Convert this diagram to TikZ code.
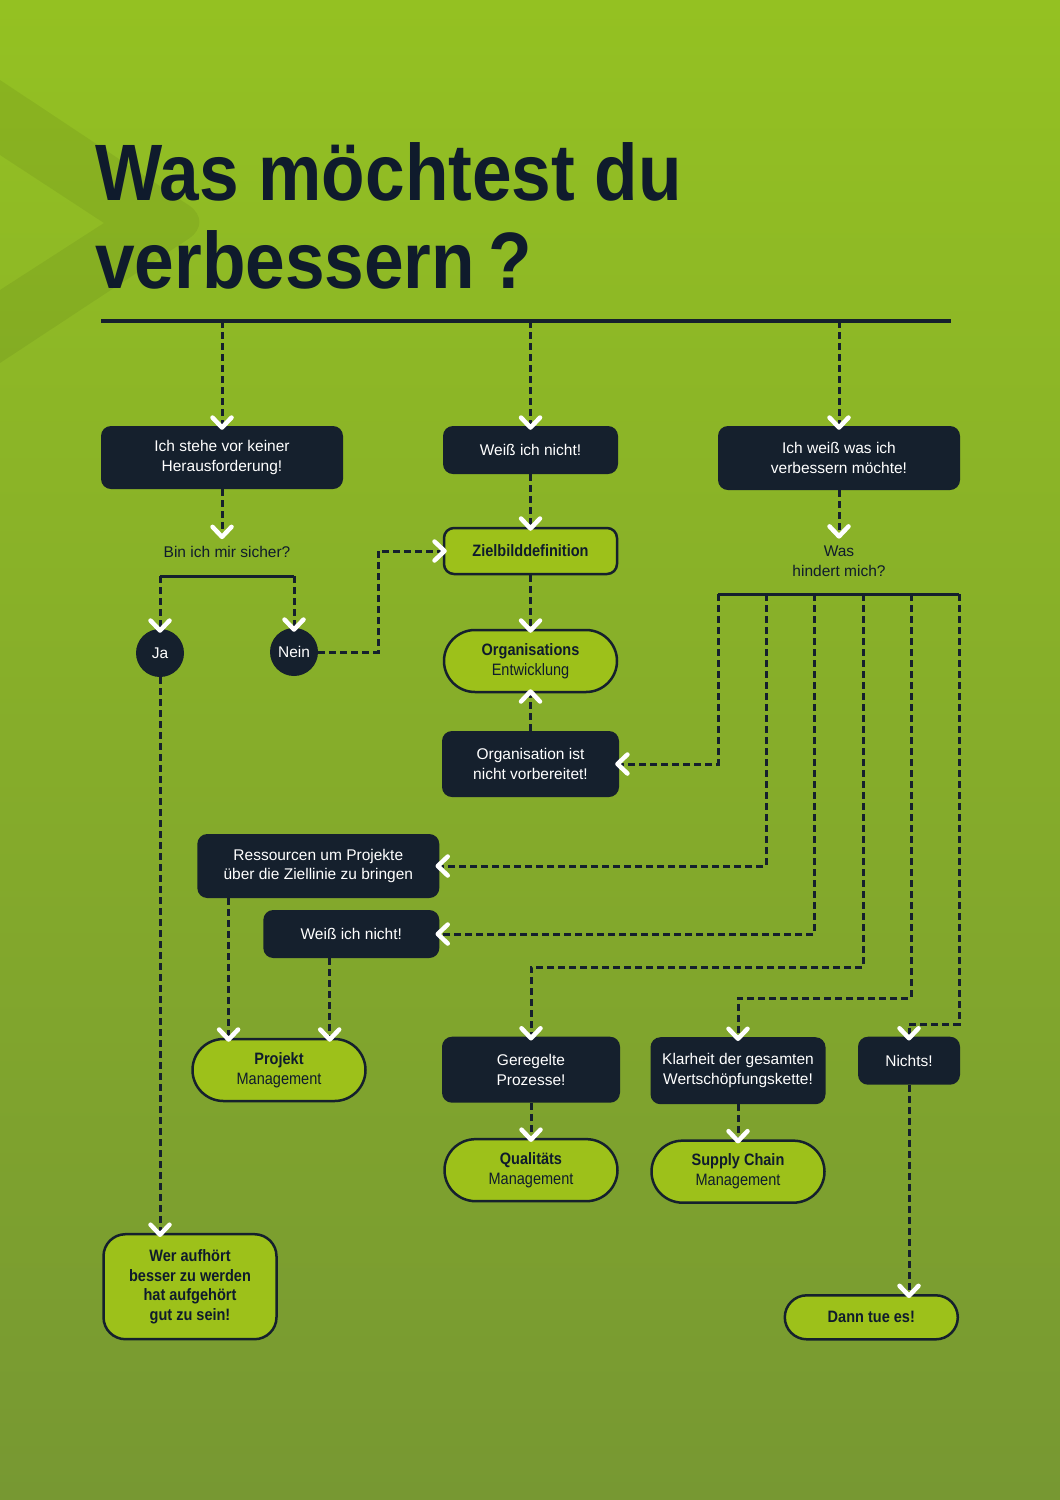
\documentclass[tikz,border=0pt]{standalone}
\usepackage{fontspec}
\setmainfont{Liberation Sans}
\newfontfamily\condfont[FakeStretch=0.88]{Liberation Sans}
\newfontfamily\headfont[FakeStretch=0.89]{Liberation Sans}
\usepackage{tikz}
\usetikzlibrary{arrows.meta,positioning}

\definecolor{navy}{HTML}{15202D}
\definecolor{ink}{HTML}{0F1B2C}
\definecolor{lime}{HTML}{9DC11A}
\definecolor{bgtop}{HTML}{94C122}
\definecolor{bgbot}{HTML}{779832}

\begin{document}
\begin{tikzpicture}
  [x=1pt,y=-1pt,
   darkbox/.style={rectangle,rounded corners=10pt,fill=navy,text=white,align=center,
     font=\fontsize{15.5}{19.5}\selectfont,minimum height=48pt,inner sep=0pt},
   greenbox/.style={rectangle,rounded corners=10pt,draw=navy,line width=2.5pt,fill=lime,
     text=ink,align=center,font=\condfont\fontsize{16.5}{20}\selectfont,
     minimum width=173pt,minimum height=46pt,inner sep=0pt},
   pill/.style={greenbox,rounded corners=31pt,minimum height=62pt},
   answer/.style={circle,fill=navy,text=white,minimum size=48pt,inner sep=0pt,
     font=\fontsize{15.5}{19.5}\selectfont},
   query/.style={text=ink,align=center,font=\fontsize{15.5}{19.5}\selectfont,inner sep=3pt},
   headline/.style={text=ink,font=\headfont\bfseries\fontsize{80}{88}\selectfont,inner sep=0pt},
   rail/.style={draw=navy,line width=3pt},
   flow/.style={draw=navy,line width=3pt,dash pattern=on 7pt off 4pt,
     -{Straight Barb[color=white,length=10pt,width=19pt,line width=4.5pt,round]},
     shorten >=-4pt}]
  \useasboundingbox (0,0) rectangle (1060,1500);
  \shade[top color=bgtop,bottom color=bgbot] (0,0) rectangle (1060,1500);
  % chevron in the background
  \fill[black,opacity=0.06] (0,80) [rounded corners=30pt] -- (214,222) [sharp corners] -- (0,363)
    -- (0,290) -- (104,223) -- (0,155) -- cycle;

  \node[headline,anchor=base west] (title1) at (95,200) {Was möchtest du};
  \node[headline,anchor=base west] (title2) at (95,288) {verbessern\,?};

  \coordinate (bar_w) at (101,321);
  \coordinate (bar_e) at (951,321);
  \coordinate (t1) at (222,321);
  \coordinate (t2) at (530.5,321);
  \coordinate (t3) at (839,321);
  \draw[rail,line width=4pt] (bar_w) -- (bar_e);

  % first row
  \node[darkbox,minimum width=242pt,minimum height=63pt] (q_none) at (222,457.5) {Ich stehe vor keiner\\Herausforderung!};
  \node[darkbox,minimum width=175pt] (q_unknown) at (530.5,450) {Weiß ich nicht!};
  \node[darkbox,minimum width=242pt,minimum height=64pt] (q_known) at (839,458) {Ich weiß was ich\\verbessern möchte!};

  % left branch
  \node[query] (sure) at (227,552) {Bin ich mir sicher?};
  \coordinate (s_ja) at (160,576);
  \coordinate (s_nein) at (294,576);
  \node[answer] (ja) at (160,653) {Ja};
  \node[answer] (nein) at (294,652) {Nein};

  % middle branch
  \node[greenbox] (ziel) at (530.5,551) {\bfseries Zielbilddefinition};
  \node[pill] (orgdev) at (530.5,661) {{\bfseries Organisations}\\Entwicklung};
  \node[darkbox,minimum width=177pt,minimum height=66pt] (org_notready) at (530.5,764) {Organisation ist\\nicht vorbereitet!};

  % right branch
  \node[query] (hindert) at (839,561) {Was\\hindert mich?};
  \coordinate (h1) at (718,594);
  \coordinate (h2) at (766,594);
  \coordinate (h3) at (814,594);
  \coordinate (h4) at (863,594);
  \coordinate (h5) at (911,594);
  \coordinate (h6) at (959,594);

  \node[darkbox,minimum width=242pt,minimum height=64pt] (ressourcen) at (318.3,866) {Ressourcen um Projekte\\über die Ziellinie zu bringen};
  \node[darkbox,minimum width=176pt] (q_unknown2) at (351.3,934) {Weiß ich nicht!};
  \node[pill] (projekt) at (279,1070) {{\bfseries Projekt}\\Management};
  \node[darkbox,minimum width=178pt,minimum height=66pt] (prozesse) at (531,1069.7) {Geregelte\\Prozesse!};
  \node[darkbox,minimum width=175pt,minimum height=67pt] (klarheit) at (738,1070.7) {Klarheit der gesamten\\Wertschöpfungskette!};
  \node[darkbox,minimum width=102pt] (nichts) at (909,1060.7) {Nichts!};
  \node[pill] (quali) [below=35pt of prozesse] {{\bfseries Qualitäts}\\Management};
  \node[pill] (supply) [below=35pt of klarheit] {{\bfseries Supply Chain}\\Management};

  % results at the bottom
  \node[greenbox,rounded corners=22pt,minimum height=105pt,font=\condfont\bfseries\fontsize{16.5}{19.4}\selectfont]
    (aufhoert) at (190,1286.7) {Wer aufhört\\besser zu werden\\hat aufgehört\\gut zu sein!};
  \node[greenbox,rounded corners=22pt,minimum height=44pt] (dann) at (871.3,1317.3) {\bfseries Dann tue es!};

  \coordinate (res_out) at ([xshift=31.5pt]ressourcen.south west);
  \coordinate (unk_out) at ([xshift=-21.6pt]q_unknown2.south);

  % connectors
  \draw[flow] (t1) -- (q_none);
  \draw[flow] (t2) -- (q_unknown);
  \draw[flow] (t3) -- (q_known);
  \draw[flow,shorten >=4pt] (q_none) -- (q_none |- sure.north);
  \draw[rail] (s_ja) -- (s_nein);
  \draw[flow] (s_ja) -- (ja);
  \draw[flow] (s_nein) -- (nein);
  \draw[flow] (nein.east) -- ++(60,0) |- (ziel.west);
  \draw[flow] (q_unknown) -- (ziel);
  \draw[flow] (ziel) -- (orgdev);
  \draw[flow] (org_notready) -- (orgdev);
  \draw[flow,shorten >=4pt] (q_known) -- (hindert.north);
  \draw[rail] (h1) -- (h6);
  \draw[flow] (h1) |- (org_notready.east);
  \draw[flow] (h2) |- (ressourcen.east);
  \draw[flow] (h3) |- (q_unknown2.east);
  \draw[flow] (h4) -- ++(0,373) -| (prozesse.north);
  \draw[flow] (h5) -- ++(0,404) -| (klarheit.north);
  \draw[flow] (h6) -- ++(0,430) -| (nichts.north);
  \draw[flow] (res_out) -- (res_out |- projekt.north);
  \draw[flow] (unk_out) -- (unk_out |- projekt.north);
  \draw[flow] (prozesse) -- (quali);
  \draw[flow] (klarheit) -- (supply);
  \draw[flow] (ja) -- (ja |- aufhoert.north);
  \draw[flow] (nichts) -- (nichts |- dann.north);
\end{tikzpicture}
\end{document}
